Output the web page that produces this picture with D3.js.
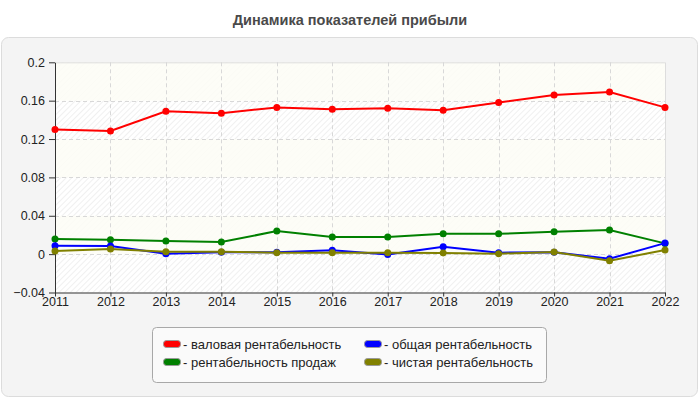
<!DOCTYPE html>
<html>
<head>
<meta charset="utf-8">
<script src="https://cdn.jsdelivr.net/npm/d3@7"></script>
<style>
  body { margin: 0; background: #fff; }
  svg { display: block; font-family: "Liberation Sans", Arial, sans-serif; }
  .axis text { font-size: 12.5px; fill: #222; }
  .axis path, .axis line { stroke: #333; }
</style>
</head>
<body>
<div id="chart-area"></div>
<script>
// data
var years = [2011, 2012, 2013, 2014, 2015, 2016, 2017, 2018, 2019, 2020, 2021, 2022];
var gross = [0.130, 0.1285, 0.149, 0.147, 0.153, 0.151, 0.152, 0.150, 0.158, 0.166, 0.169, 0.153];
var sales = [0.0157, 0.015, 0.0136, 0.0126, 0.024, 0.0178, 0.0178, 0.0212, 0.0212, 0.0233, 0.0251, 0.0112];
var total = [0.0087, 0.0085, 0.0004, 0.002, 0.002, 0.004, -0.0003, 0.0077, 0.0015, 0.002, -0.0048, 0.0115];
var net = [0.0032, 0.0053, 0.0025, 0.0024, 0.0015, 0.0015, 0.0015, 0.0012, 0.0005, 0.0022, -0.0069, 0.0043];
var yTicks = [-0.04, 0, 0.04, 0.08, 0.12, 0.16, 0.2];

var series = [
    { name: "- валовая рентабельность", color: "#ff0000", values: gross },
    { name: "- рентабельность продаж", color: "#008000", values: sales },
    { name: "- общая рентабельность", color: "#0000ff", values: total },
    { name: "- чистая рентабельность", color: "#808000", values: net }
];
// legend order (2 columns)
var legendOrder = [
    { s: series[0], col: 0, row: 0 },
    { s: series[2], col: 1, row: 0 },
    { s: series[1], col: 0, row: 1 },
    { s: series[3], col: 1, row: 1 }
];

var svg = d3.select("#chart-area").append("svg")
    .attr("width", 700)
    .attr("height", 400);

// outer panel
svg.append("rect")
    .attr("x", 1.5).attr("y", 37.5)
    .attr("width", 696).attr("height", 359)
    .attr("rx", 7)
    .attr("fill", "#f4f4f4")
    .attr("stroke", "#dcdcdc");

svg.append("text")
    .attr("x", 350).attr("y", 25)
    .attr("text-anchor", "middle")
    .style("font-size", "14.5px")
    .style("font-weight", "bold")
    .attr("fill", "#4a4a4a")
    .text("Динамика показателей прибыли");

var x = d3.scaleLinear().domain([2011, 2022]).range([55, 665]);
var y = d3.scaleLinear().domain([-0.04, 0.2]).range([292.5, 62.3]);

// hatch pattern
var defs = svg.append("defs");
var pat = defs.append("pattern")
    .attr("id", "hatch")
    .attr("patternUnits", "userSpaceOnUse")
    .attr("width", 4).attr("height", 4)
    .attr("patternTransform", "rotate(45)");
pat.append("rect").attr("width", 4).attr("height", 4).attr("fill", "#ffffff");
pat.append("line")
    .attr("x1", 0).attr("y1", 0).attr("x2", 0).attr("y2", 4)
    .attr("stroke", "#e6e6e6").attr("stroke-width", 1.2);

svg.append("rect")
    .attr("x", x(2011)).attr("y", y(0.2))
    .attr("width", x(2022) - x(2011))
    .attr("height", y(-0.04) - y(0.2))
    .attr("fill", "url(#hatch)");

// alternating plain bands
for (var i = 0; i < yTicks.length - 1; i++) {
    if ((yTicks.length - 2 - i) % 2 === 0) {
        svg.append("rect")
            .attr("x", x(2011)).attr("y", y(yTicks[i + 1]))
            .attr("width", x(2022) - x(2011))
            .attr("height", y(yTicks[i]) - y(yTicks[i + 1]))
            .attr("fill", "#fdfdf6").attr("opacity", 0.85);
    }
}

// plot border top/right
svg.append("path")
    .attr("d", "M" + x(2011) + "," + (y(0.2) + 0.5) + "H" + (x(2022) + 0.5) + "V" + y(-0.04))
    .attr("fill", "none").attr("stroke", "#dddddd");

// grid
svg.selectAll(".vgrid").data(years.slice(1, -1)).enter().append("line")
    .attr("class", "vgrid")
    .attr("x1", function (d) { return Math.round(x(d)) + 0.5; })
    .attr("x2", function (d) { return Math.round(x(d)) + 0.5; })
    .attr("y1", y(0.2)).attr("y2", y(-0.04))
    .attr("stroke", "#d8d8d8").attr("stroke-dasharray", "4,3");
svg.selectAll(".hgrid").data(yTicks.slice(1, -1)).enter().append("line")
    .attr("class", "hgrid")
    .attr("y1", function (d) { return Math.round(y(d)) + 0.5; })
    .attr("y2", function (d) { return Math.round(y(d)) + 0.5; })
    .attr("x1", x(2011)).attr("x2", x(2022))
    .attr("stroke", "#d8d8d8").attr("stroke-dasharray", "4,3");

// axes
svg.append("g").attr("class", "axis")
    .attr("transform", "translate(" + x(2011) + ",0)")
    .call(d3.axisLeft(y).tickValues(yTicks).tickSize(6).tickSizeOuter(0)
        .tickPadding(4)
        .tickFormat(function (d) { return d3.format("")(+d.toFixed(2)); }));
svg.append("g").attr("class", "axis")
    .attr("transform", "translate(0," + y(-0.04) + ")")
    .call(d3.axisBottom(x).tickValues(years).tickSize(4).tickSizeOuter(0)
        .tickPadding(1).tickFormat(d3.format("d")));

// lines
var line = d3.line()
    .x(function (d, i) { return x(years[i]); })
    .y(function (d) { return y(d); });

series.forEach(function (s) {
    svg.append("path")
        .datum(s.values)
        .attr("d", line)
        .attr("fill", "none")
        .attr("stroke", s.color)
        .attr("stroke-width", 2);
    svg.selectAll(null).data(s.values).enter().append("circle")
        .attr("cx", function (d, i) { return x(years[i]); })
        .attr("cy", function (d) { return y(d); })
        .attr("r", 3.5)
        .attr("fill", s.color);
});

// legend
svg.append("rect")
    .attr("x", 152.5).attr("y", 327.5)
    .attr("width", 394).attr("height", 55)
    .attr("rx", 4)
    .attr("fill", "#fafafa")
    .attr("stroke", "#a8a8a8");

var leg = svg.selectAll(".leg").data(legendOrder).enter().append("g")
    .attr("class", "leg")
    .attr("transform", function (d) {
        return "translate(" + (163 + d.col * 201) + "," + (340 + d.row * 18) + ")";
    });
leg.append("rect")
    .attr("x", 0.5).attr("y", 0.5)
    .attr("width", 17).attr("height", 7)
    .attr("rx", 3)
    .attr("fill", function (d) { return d.s.color; })
    .attr("stroke", "#999");
leg.append("text")
    .attr("x", 20).attr("y", 9)
    .style("font-size", "13px")
    .attr("fill", "#222")
    .text(function (d) { return d.s.name; });
</script>
</body>
</html>
